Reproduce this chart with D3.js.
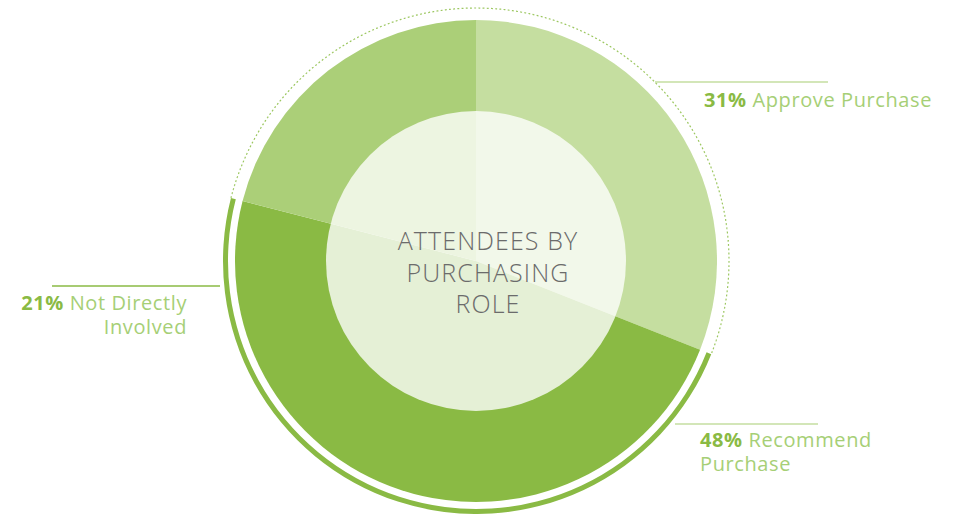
<!DOCTYPE html>
<html>
<head>
<meta charset="utf-8">
<script src="https://d3js.org/d3.v7.min.js"></script>
<style>
  body { margin: 0; background: #fff; }
  #chart { width: 957px; height: 514px; }
  text { font-family: "Open Sans", "Noto Sans", sans-serif; }
</style>
</head>
<body>
<div id="chart"></div>
<script>
// data
const roles = ["Approve Purchase", "Recommend Purchase", "Not Directly Involved"];
const shares = [31, 48, 21];
const sliceColors = ["#c5dea0", "#8aba44", "#abcf78"];
const labelLines = [["Approve Purchase"], ["Recommend", "Purchase"], ["Not Directly", "Involved"]];
const centerTitle = ["ATTENDEES BY", "PURCHASING", "ROLE"];

document.addEventListener('DOMContentLoaded', function () {
    const width = 957, height = 514;
    const cx = 476, cy = 261;
    const outerR = 241, innerR = 150;

    const svg = d3.select("#chart").append("svg")
        .attr("width", width)
        .attr("height", height);

    const g = svg.append("g").attr("transform", `translate(${cx},${cy})`);

    const slices = roles.map((r, i) => ({ role: r, value: shares[i], color: sliceColors[i] }));
    const pie = d3.pie().sort(null).value(d => d.value);
    const arcs = pie(slices);

    const arc = d3.arc().innerRadius(0).outerRadius(outerR);

    // 饼图扇区
    g.selectAll(".slice")
        .data(arcs)
        .enter().append("path")
        .attr("class", "slice")
        .attr("d", arc)
        .attr("fill", d => d.data.color);

    // 外圈：最大扇区用实线，其余用点线
    const biggest = arcs.reduce((a, b) => (b.value > a.value ? b : a));
    const ring = d3.arc().innerRadius(248).outerRadius(253);
    g.append("path")
        .attr("d", ring({ startAngle: biggest.startAngle, endAngle: biggest.endAngle }))
        .attr("fill", "#8aba44");

    const dotted = d3.arc().innerRadius(253).outerRadius(253);
    g.append("path")
        .attr("d", dotted({ startAngle: biggest.endAngle, endAngle: biggest.startAngle + 2 * Math.PI }))
        .attr("fill", "none")
        .attr("stroke", "#9cc760")
        .attr("stroke-width", 1.2)
        .attr("stroke-dasharray", "1.2,3");

    // 中心半透明圆
    g.append("circle")
        .attr("r", innerR)
        .attr("fill", "#fff")
        .attr("fill-opacity", 0.78);

    g.selectAll(".title")
        .data(centerTitle)
        .enter().append("text")
        .attr("class", "title")
        .attr("text-anchor", "middle")
        .attr("fill", "#6b6b6b")
        .style("font-size", "25px")
        .style("font-weight", 300)
        .style("letter-spacing", "1.1px")
        .attr("x", 12)
        .attr("y", (d, i) => -11 + i * 31.5)
        .text(d => d);

    // 标签布局
    const labelLayout = [
        { line: [655, 828, 82], x: 704, y: 107, anchor: "start", stroke: "#c5dea0" },
        { line: [675, 818, 424], x: 700, y: 447, anchor: "start", stroke: "#c5dea0" },
        { line: [52, 220, 286], x: 187, y: 310, anchor: "end", stroke: "#8aba44" }
    ];

    const labels = svg.append("g");
    arcs.forEach((a, i) => {
        const L = labelLayout[i];
        labels.append("line")
            .attr("x1", L.line[0]).attr("x2", L.line[1])
            .attr("y1", L.line[2]).attr("y2", L.line[2])
            .attr("stroke", L.stroke)
            .attr("stroke-width", 1.6);

        labelLines[i].forEach((txt, j) => {
            const t = labels.append("text")
                .attr("text-anchor", L.anchor)
                .attr("x", L.x)
                .attr("y", L.y + j * 23.5)
                .style("font-size", "20px")
                .style("letter-spacing", "0.6px");
            if (j === 0) {
                t.append("tspan").attr("fill", "#8aba44").style("font-weight", 700).text(a.data.value + "% ");
            }
            t.append("tspan").attr("fill", "#a6cf76").text(txt);
        });
    });
});
</script>
</body>
</html>
